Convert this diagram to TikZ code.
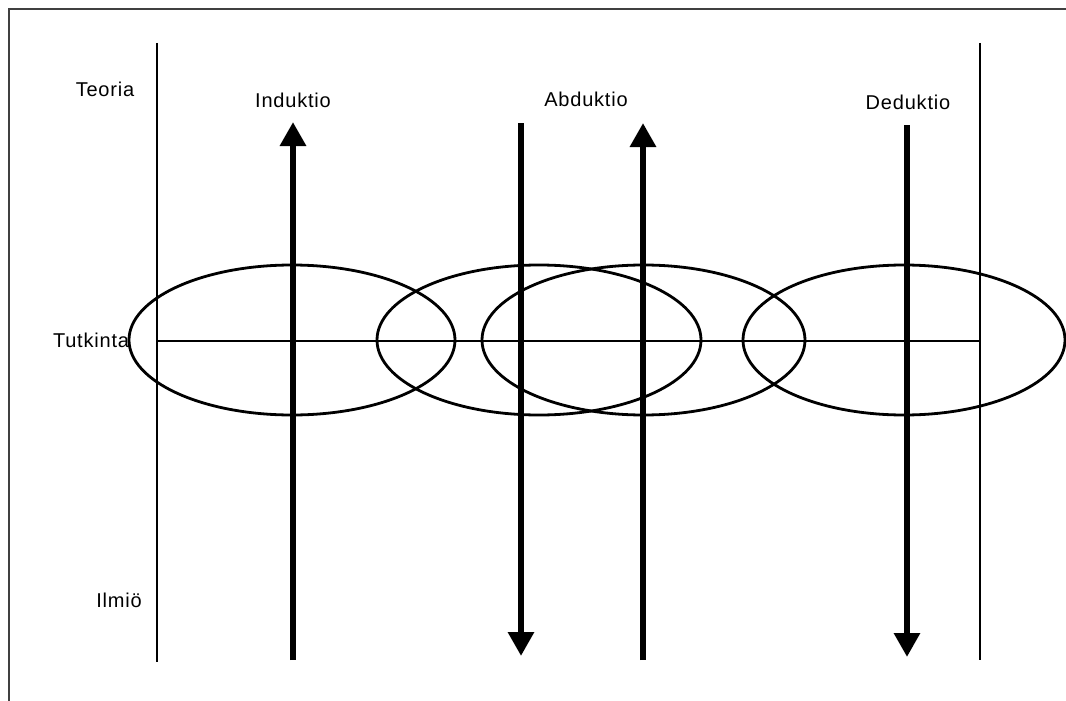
\documentclass[tikz,border=0pt]{standalone}
\usepackage{fontspec}
\setmainfont{Liberation Sans}[LetterSpace=4]
\usetikzlibrary{arrows.meta,shapes.geometric}
\begin{document}
\begin{tikzpicture}[x=1pt,y=-1pt,
  lbl/.style={font=\fontsize{20}{23}\selectfont, inner sep=0pt, text=black},
  guide/.style={line width=2.6pt},
  bigarrow/.style={line width=6.5pt,-{Triangle[width=25pt,length=24pt]}},
  oval/.style={draw, ellipse, line width=2.8pt, minimum height=150pt, inner sep=0pt}]
\useasboundingbox (0,0) rectangle (1066,701);
% frame
\coordinate (fb) at (9,701);
\coordinate (fc) at (9,9);
\coordinate (fr) at (1066,9);
\draw[line width=1.8pt, black!75] (fb) -- (fc) -- (fr);
% ellipses
\node[oval, minimum width=326pt] (e1) at (292,340) {};
\node[oval, minimum width=324pt] (e2) at (539,340) {};
\node[oval, minimum width=323pt] (e3) at (643.5,340) {};
\node[oval, minimum width=322pt] (e4) at (904,340) {};
% guide lines
\coordinate (L1) at (157,43);
\coordinate (L2) at (157,662);
\coordinate (R1) at (980,43);
\coordinate (R2) at (980,660);
\coordinate (H1) at (157,341);
\coordinate (H2) at (980,341);
\draw[guide] (L1) -- (L2);
\draw[guide] (R1) -- (R2);
\draw[guide] (H1) -- (H2);
% arrows
\coordinate (i0) at (293,660);
\coordinate (i1) at (293,122);
\coordinate (a0) at (521,123);
\coordinate (a1) at (521,656);
\coordinate (b0) at (643,660);
\coordinate (b1) at (643,123);
\coordinate (d0) at (907,125);
\coordinate (d1) at (907,657);
\draw[bigarrow] (i0) -- (i1);
\draw[bigarrow] (a0) -- (a1);
\draw[bigarrow] (b0) -- (b1);
\draw[bigarrow] (d0) -- (d1);
% labels
\node[lbl] (teoria) at (105,89) {Teoria};
\node[lbl] (induktio) at (293,100) {Induktio};
\node[lbl] (abduktio) at (586,99) {Abduktio};
\node[lbl] (deduktio) at (908,102) {Deduktio};
\node[lbl] (tutkinta) at (91,340) {Tutkinta};
\node[lbl] (ilmio) at (119,600) {Ilmiö};
\end{tikzpicture}
\end{document}
